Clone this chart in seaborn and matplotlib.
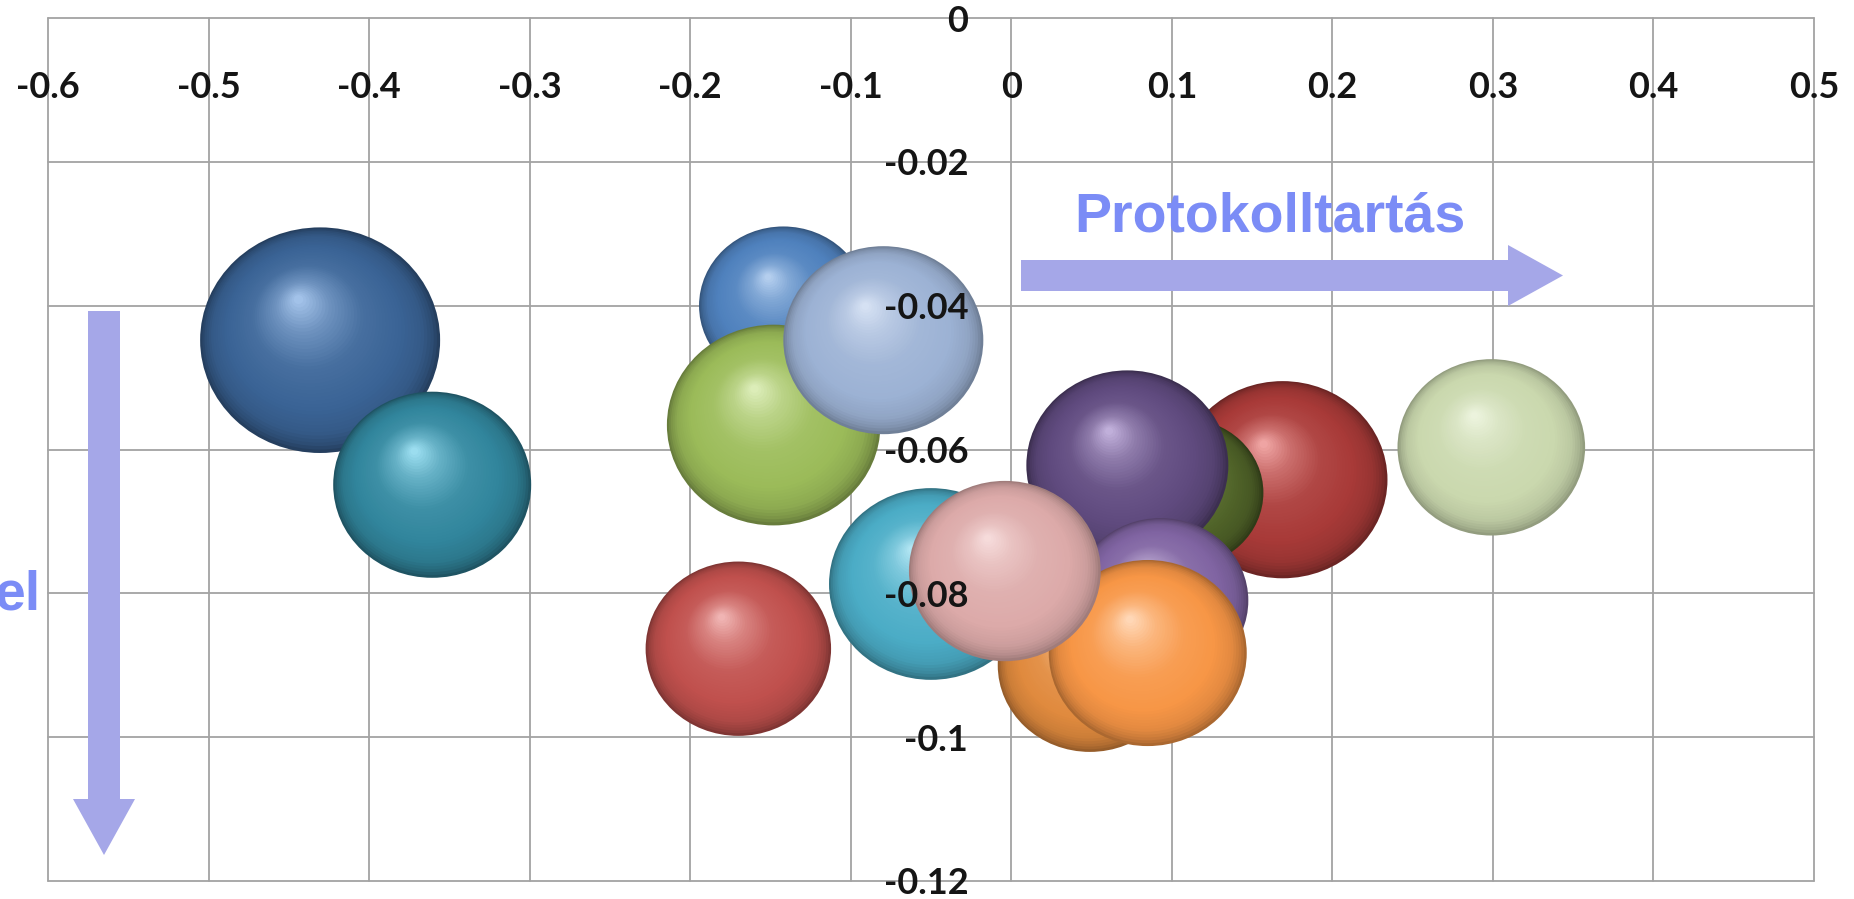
import colorsys

import numpy as np
import matplotlib
matplotlib.use("Agg")
import matplotlib.pyplot as plt
import seaborn as sns
from matplotlib.path import Path
from matplotlib.patches import Polygon
from matplotlib.colors import to_rgb

# ---------------- data ----------------
units = ["E01", "E02", "E03", "E04", "E05", "E06", "E07", "E08",
         "E09", "E10", "E11", "E12", "E13", "E14", "E15"]
x_values = [-0.4305, -0.3607, -0.170, -0.142, -0.148, -0.0797, 0.169, 0.108,
            0.0723, 0.093, 0.049, 0.085, -0.050, -0.004, 0.299]
y_values = [-0.0448, -0.0649, -0.0877, -0.0400, -0.0566, -0.0448, -0.0642, -0.0660,
            -0.0622, -0.0810, -0.0900, -0.0883, -0.0787, -0.0769, -0.0597]
bubble_sizes = [144, 98, 86, 71, 114, 100, 110, 62,
                102, 77, 85, 98, 104, 92, 88]

x_ticks = [-0.6, -0.5, -0.4, -0.3, -0.2, -0.1, 0, 0.1, 0.2, 0.3, 0.4, 0.5]
x_tick_labels = ["-0.6", "-0.5", "-0.4", "-0.3", "-0.2", "-0.1",
                 "0", "0.1", "0.2", "0.3", "0.4", "0.5"]
y_ticks = [0, -0.02, -0.04, -0.06, -0.08, -0.1, -0.12]
y_tick_labels = ["0", "-0.02", "-0.04", "-0.06", "-0.08", "-0.1", "-0.12"]

# ---------------- style ----------------
bubble_colors = ["#3a6395", "#31859c", "#c0504d", "#4f81bd", "#9bbb59", "#9cb2d4",
                 "#a83a38", "#4f6228", "#5f4a7e", "#8064a2", "#e08a3e", "#f79646",
                 "#4bacc6", "#dcaaa9", "#cad8ae"]
grid_color = "#a3a3a3"
arrow_color = "#a5a7e8"
note_color = "#7b8cf6"
DPI = 100
W, H = 1854, 899

sns.set_style("white")
plt.rcParams["font.family"] = ["Lato", "DejaVu Sans"]

fig = plt.figure(figsize=(W / DPI, H / DPI), dpi=DPI)
ax = fig.add_axes([48 / W, 1 - 881 / H, 1766 / W, 863 / H])
ax.set_xlim(-0.6, 0.5)
ax.set_ylim(-0.12, 0.0)

# pixel scale of the data axes
px_per_x = ax.bbox.width / 1.1
px_per_y = ax.bbox.height / 0.12

# slightly flattened bubble outline
ellipse = Path.unit_circle().transformed(matplotlib.transforms.Affine2D().scale(1.0, 0.94))


def shade(base, v):
    r, g, b = to_rgb(base)
    h, l, s = colorsys.rgb_to_hls(r, g, b)
    base_rgb = np.array([r, g, b])
    dark = base_rgb * (0.45 + 0.3 * l)
    hi = np.array(colorsys.hls_to_rgb(h, l + (1 - l) * 0.62, min(1.0, s * 1.4)))
    if v < 0:
        return base_rgb + (dark - base_rgb) * (-v)
    return base_rgb + (hi - base_rgb) * v


# layered discs give each bubble a spherical look
n_layers = 44
layer_t = np.linspace(0.0, 1.0, n_layers)
tone = np.interp(layer_t, [0, 0.04, 0.12, 0.28, 0.55, 0.8, 1.0],
                 [-0.85, -0.55, -0.22, 0.0, 0.12, 0.5, 1.0])

px, py, ps, pc = [], [], [], []
for xv, yv, size, col in zip(x_values, y_values, bubble_sizes, bubble_colors):
    r_px = 10.0 * np.sqrt(size)
    for t, v in zip(layer_t, tone):
        frac = 1.0 - 0.96 * t
        px.append(xv - 0.18 * r_px * t / px_per_x)
        py.append(yv + 0.36 * 0.94 * r_px * t / px_per_y)
        ps.append((2 * r_px * frac * 72 / DPI) ** 2)
        pc.append(np.clip(shade(col, v), 0, 1))

sns.scatterplot(x=np.array(px), y=np.array(py), s=np.array(ps), c=np.array(pc),
                marker=ellipse, linewidth=0, edgecolor="none", legend=False,
                ax=ax, zorder=2)

# grid and frame behind the bubbles
for xt in x_ticks:
    ax.axvline(xt, color=grid_color, lw=1.3, zorder=0.5, clip_on=False)
for yt in y_ticks:
    ax.axhline(yt, color=grid_color, lw=1.3, zorder=0.5, clip_on=False)

ax.set_xlim(-0.6, 0.5)
ax.set_ylim(-0.12, 0.0)
for sp in ax.spines.values():
    sp.set_visible(False)
ax.spines["left"].set_position(("data", 0))
ax.spines["bottom"].set_position(("data", 0))

ax.set_xticks(x_ticks)
ax.set_xticklabels(x_tick_labels)
ax.set_yticks(y_ticks)
ax.set_yticklabels(y_tick_labels)
ax.tick_params(axis="x", length=0, pad=38, labelsize=26, labelcolor="#151515")
ax.tick_params(axis="y", length=0, pad=31, labelsize=26, labelcolor="#151515")
for lab in ax.get_xticklabels() + ax.get_yticklabels():
    lab.set_fontweight("bold")
ax.xaxis.set_zorder(5)
ax.yaxis.set_zorder(5)
ax.set_xlabel("")
ax.set_ylabel("")


def fpt(x, y):
    return (x / W, 1 - y / H)


# direction arrows and their captions
h_arrow = [fpt(1021, 260), fpt(1508, 260), fpt(1508, 245), fpt(1563, 275.5),
           fpt(1508, 306), fpt(1508, 291), fpt(1021, 291)]
v_arrow = [fpt(88, 311), fpt(120, 311), fpt(120, 799), fpt(135, 799),
           fpt(104, 855), fpt(73, 799), fpt(88, 799)]
for verts in (h_arrow, v_arrow):
    fig.add_artist(Polygon(verts, closed=True, transform=fig.transFigure,
                           facecolor=arrow_color, edgecolor="none", zorder=6))

fig.text(1074 / W, 1 - 232 / H, "Protokolltartás", ha="left", va="baseline",
         fontsize=40, fontweight="bold", family="Liberation Sans", color=note_color)
fig.text(41 / W, 1 - 610 / H, "el", ha="right", va="baseline",
         fontsize=40, fontweight="bold", family="Liberation Sans", color=note_color)

fig.savefig("out.png", dpi=DPI)
